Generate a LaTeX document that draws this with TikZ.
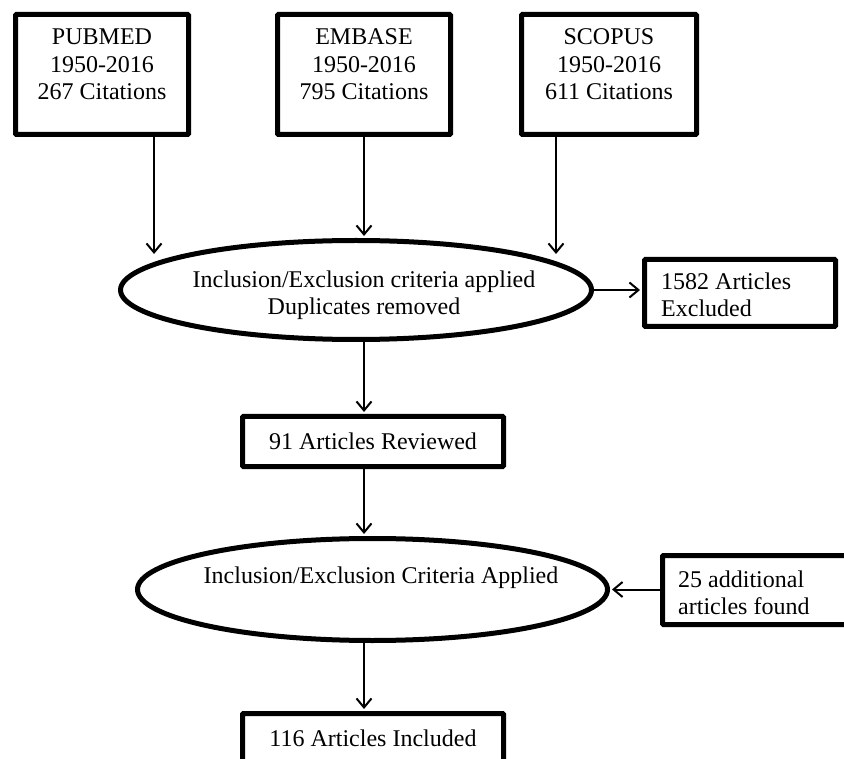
\documentclass[tikz,border=0pt]{standalone}
\usepackage{fontspec}
\setmainfont{Liberation Serif}
\usetikzlibrary{arrows.meta,shapes.geometric}

\begin{document}
\begin{tikzpicture}[x=1pt,y=1pt,
    box/.style={draw,line width=5pt,rounded corners=1pt,inner sep=0pt,font=\fontsize{24}{27.5}\selectfont},
    oval/.style={draw,ellipse,line width=5pt,inner sep=0pt},
    txt/.style={inner sep=0pt,font=\fontsize{24}{27.5}\selectfont},
    arr/.style={line width=2pt,shorten >=2pt,-{Straight Barb[length=9pt,width=15pt]}}]
      \useasboundingbox (0,0) rectangle (844,-759);
      % databases
      \node[box,minimum width=173pt,minimum height=120pt] (pubmed) at (102,-74.5) {};
      \node[box,minimum width=173pt,minimum height=120pt] (embase) at (364,-74.5) {};
      \node[box,minimum width=175pt,minimum height=120pt] (scopus) at (609,-74.5) {};
      \node[txt,align=center] (pubmedtxt) at ([yshift=10pt]pubmed.center) {PUBMED\\1950-2016\\267 Citations};
      \node[txt,align=center] (embasetxt) at ([yshift=10pt]embase.center) {EMBASE\\1950-2016\\795 Citations};
      \node[txt,align=center] (scopustxt) at ([yshift=10pt]scopus.center) {SCOPUS\\1950-2016\\611 Citations};
      % first screening
      \node[oval,minimum width=471pt,minimum height=99pt] (ell1) at (356,-290) {};
      \node[txt,align=center] (ell1txt) at (364,-295) {Inclusion/Exclusion criteria applied\\Duplicates removed};
      \node[box,minimum width=191pt,minimum height=67pt] (excl) at (740,-293) {};
      \node[txt,align=left,anchor=west] (excltxt) at (661,-295) {1582 Articles\\Excluded};
      \node[box,minimum width=261pt,minimum height=50pt] (reviewed) at (373,-441.5) {91 Articles Reviewed};
      % second screening
      \node[oval,minimum width=470pt,minimum height=102pt] (ell2) at (372.5,-589.5) {};
      \node[txt] (ell2txt) at (381,-578) {Inclusion/Exclusion Criteria Applied};
      \node[box,minimum width=187pt,minimum height=69pt] (added) at (756,-590) {};
      \node[txt,align=left,anchor=west] (addedtxt) at (678,-593) {25 additional\\articles found};
      \node[box,minimum width=261pt,minimum height=50pt] (incl) at (373,-738.5) {116 Articles Included};
      % arrows
      \coordinate (spine) at (364,0);
      \coordinate (pubin) at (154,-256);
      \coordinate (scopin) at (556,-256);
      \draw[arr] (pubin |- pubmed.south) -- (pubin);
      \draw[arr] (embase.south) -- (embase.south |- ell1.north);
      \draw[arr] (scopin |- scopus.south) -- (scopin);
      \draw[arr] (ell1.east) -- (ell1.east -| excl.west);
      \draw[arr] (spine |- ell1.south) -- (spine |- reviewed.north);
      \draw[arr] (spine |- reviewed.south) -- (spine |- ell2.north);
      \draw[arr] (ell2.east -| added.west) -- (ell2.east);
      \draw[arr] (spine |- ell2.south) -- (spine |- incl.north);
\end{tikzpicture}
\end{document}
